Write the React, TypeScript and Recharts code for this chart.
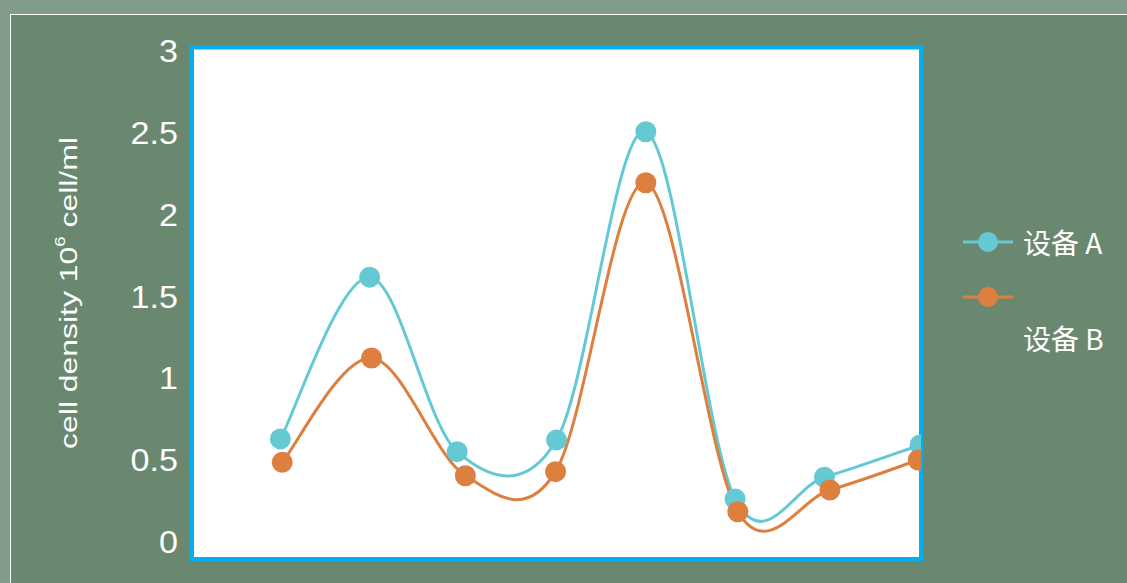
import { LineChart, Line, XAxis, YAxis, ReferenceArea, Legend } from 'recharts';

const seriesNames = ['设备 A', '设备 B'];
const seriesColors = ['#65c9d4', '#dd7f3e'];

// x positions differ slightly per series in the original
const xA = [0.97, 1.95, 2.91, 4.0, 4.98, 5.96, 6.94, 7.99];
const yA = [0.633, 1.622, 0.555, 0.627, 2.511, 0.266, 0.399, 0.596];
const xB = [0.99, 1.97, 3.0, 3.99, 4.98, 5.99, 7.0, 7.97];
const yB = [0.49, 1.128, 0.408, 0.433, 2.199, 0.188, 0.321, 0.504];

const yTicks = [0, 0.5, 1, 1.5, 2, 2.5, 3];
const yDomain = [-0.101, 3.026];
const xDomain = [0, 8];

const dataA = xA.map((x, i) => ({ x, y: yA[i] }));
const dataB = xB.map((x, i) => ({ x, y: yB[i] }));

// catmull-rom style smoothing, close to excel's smoothed lines
function smoothCurve(context: any) {
  let pts: number[][] = [];
  return {
    areaStart() {},
    areaEnd() {},
    lineStart() {
      pts = [];
    },
    point(x: number, y: number) {
      pts.push([+x, +y]);
    },
    lineEnd() {
      const n = pts.length;
      if (!n) return;
      context.moveTo(pts[0][0], pts[0][1]);
      for (let i = 0; i < n - 1; i++) {
        const p0 = pts[i - 1] || pts[i];
        const p1 = pts[i];
        const p2 = pts[i + 1];
        const p3 = pts[i + 2] || p2;
        context.bezierCurveTo(
          p1[0] + (p2[0] - p0[0]) / 6,
          p1[1] + (p2[1] - p0[1]) / 6,
          p2[0] - (p3[0] - p1[0]) / 6,
          p2[1] - (p3[1] - p1[1]) / 6,
          p2[0],
          p2[1]
        );
      }
    },
  };
}

const YTick = ({ x, y, payload }: any) => (
  <text
    x={0}
    y={0}
    transform={`translate(${x},${y}) scale(1.1,1)`}
    textAnchor="end"
    dominantBaseline="central"
    fill="#fff"
    fontSize={31}
    fontFamily="'Liberation Sans', Arial, sans-serif"
  >
    {payload.value}
  </text>
);

const YLabel = () => (
  <text
    x={0}
    y={0}
    transform="translate(69,293) rotate(-90) scale(1.33,1)"
    textAnchor="middle"
    dominantBaseline="central"
    fill="#fff"
    fontSize={24}
    fontFamily="'Liberation Sans', Arial, sans-serif"
  >
    cell density 10
    <tspan dy={-9} fontSize={14}>6</tspan>
    <tspan dy={9}> cell/ml</tspan>
  </text>
);

const LegendIcon = ({ color }: { color: string }) => (
  <svg width={50} height={40} style={{ display: 'block', flex: 'none' }}>
    <line x1={0} y1={20} x2={50} y2={20} stroke={color} strokeWidth={3} />
    <circle cx={25} cy={20} r={10} fill={color} />
  </svg>
);

const legendText = {
  color: '#fff',
  fontSize: 28,
  lineHeight: '40px',
  fontFamily: "'Noto Sans CJK SC', 'Noto Sans', sans-serif",
  whiteSpace: 'nowrap' as const,
};

const renderLegend = () => (
  <div style={{ width: 160 }}>
    <div style={{ display: 'flex', alignItems: 'center' }}>
      <LegendIcon color={seriesColors[0]} />
      <span style={{ ...legendText, marginLeft: 10 }}>{seriesNames[0]}</span>
    </div>
    <div style={{ marginTop: 15 }}>
      <LegendIcon color={seriesColors[1]} />
      <div style={{ ...legendText, marginLeft: 60, marginTop: 1 }}>{seriesNames[1]}</div>
    </div>
  </div>
);

export default function App() {
  return (
    <div
      style={{
        position: 'absolute',
        left: 0,
        top: 0,
        width: 1127,
        height: 583,
        overflow: 'hidden',
        background: '#809b88',
      }}
    >
      <div
        style={{
          position: 'absolute',
          left: 10,
          top: 14,
          width: 1140,
          height: 600,
          background: '#6a8870',
          borderLeft: '1px solid #fff',
          borderTop: '1px solid #fff',
        }}
      />
      <div style={{ position: 'absolute', left: 0, top: 0 }}>
        <LineChart
          width={1127}
          height={583}
          margin={{ top: 47.5, right: 206, bottom: 24, left: 92 }}
        >
          <XAxis type="number" dataKey="x" domain={xDomain} allowDataOverflow hide />
          <YAxis
            type="number"
            domain={yDomain}
            ticks={yTicks}
            allowDataOverflow
            width={100}
            axisLine={false}
            tickLine={false}
            tickSize={0}
            tickMargin={14}
            tick={<YTick />}
            label={<YLabel />}
            interval={0}
          />
          <ReferenceArea
            x1={xDomain[0]}
            x2={xDomain[1]}
            y1={yDomain[0]}
            y2={yDomain[1]}
            fill="#fff"
            fillOpacity={1}
            stroke="#00b0f0"
            strokeWidth={4}
            ifOverflow="visible"
          />
          <Legend
            layout="vertical"
            align="right"
            verticalAlign="top"
            content={renderLegend}
            wrapperStyle={{ left: 963, top: 222, width: 0, height: 0, overflow: 'visible' }}
          />
          <Line
            data={dataA}
            dataKey="y"
            name={seriesNames[0]}
            type={smoothCurve as any}
            stroke={seriesColors[0]}
            strokeWidth={3}
            dot={{ r: 10.5, fill: seriesColors[0], stroke: 'none' }}
            activeDot={false}
            isAnimationActive={false}
          />
          <Line
            data={dataB}
            dataKey="y"
            name={seriesNames[1]}
            type={smoothCurve as any}
            stroke={seriesColors[1]}
            strokeWidth={3}
            dot={{ r: 10.5, fill: seriesColors[1], stroke: 'none' }}
            activeDot={false}
            isAnimationActive={false}
          />
        </LineChart>
      </div>
    </div>
  );
}
